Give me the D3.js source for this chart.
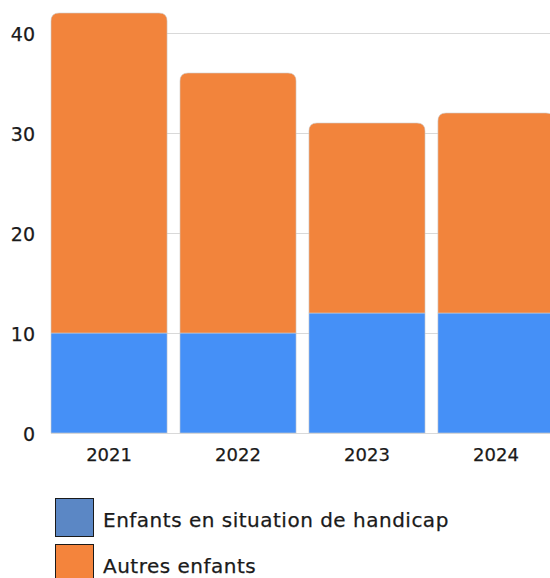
<!DOCTYPE html>
<html lang="fr">
<head>
<meta charset="utf-8" />
<title>Enfants</title>
<style>
  html,body{margin:0;background:#fff;}
  svg{display:block;font-family:"DejaVu Sans","Open Sans",sans-serif;}
  text{stroke:#1a1a1a;stroke-width:0.25px;}
</style>
</head>
<body>
<svg id="chart" width="550" height="578"></svg>
<script src="https://d3js.org/d3.v7.min.js"></script>
<script>
// ---- data ----
const years = ['2021','2022','2023','2024'];
const handicap = [10, 10, 12, 12];
const autres = [32, 26, 19, 20];
const yTicks = [0, 10, 20, 30, 40];
const seriesNames = ['Enfants en situation de handicap', 'Autres enfants'];

const svg = d3.select('#chart');
const x = d3.scaleBand().domain(years).range([51, 554]).paddingInner(0.1).paddingOuter(0);
const y = d3.scaleLinear().domain([0, 40]).range([433, 33]);

// gridlines
svg.append('g').selectAll('line').data(yTicks).join('line')
  .attr('x1', 51).attr('x2', 550)
  .attr('y1', d => y(d) + 0.5).attr('y2', d => y(d) + 0.5)
  .attr('stroke', '#d9d9d9').attr('stroke-width', 1.2);

// y labels
svg.append('g').selectAll('text').data(yTicks).join('text')
  .attr('x', 35).attr('y', d => y(d) + 8)
  .attr('text-anchor', 'end').attr('font-size', 19).attr('fill', '#1a1a1a')
  .text(d => d);

const rows = years.map((yr, i) => ({yr, h: handicap[i], a: autres[i]}));
const bw = x.bandwidth(), r = 8;

// blue segments
svg.append('g').selectAll('rect').data(rows).join('rect')
  .attr('x', d => x(d.yr)).attr('width', bw)
  .attr('y', d => y(d.h)).attr('height', d => y(0) - y(d.h))
  .attr('fill', '#4590f7').attr('stroke', '#cfcfcf').attr('stroke-width', 0.6);

// orange segments with rounded top corners
svg.append('g').selectAll('path').data(rows).join('path')
  .attr('d', d => {
    const x0 = x(d.yr), x1 = x0 + bw, top = y(d.h + d.a), bot = y(d.h);
    return `M${x0},${bot} L${x0},${top + r} Q${x0},${top} ${x0 + r},${top} L${x1 - r},${top} Q${x1},${top} ${x1},${top + r} L${x1},${bot} Z`;
  })
  .attr('fill', '#f2843c').attr('stroke', '#cfcfcf').attr('stroke-width', 0.6);

// x labels
svg.append('g').selectAll('text').data(years).join('text')
  .attr('x', d => x(d) + bw / 2).attr('y', 461)
  .attr('text-anchor', 'middle').attr('font-size', 18).attr('fill', '#1a1a1a')
  .text(d => d);

// legend
const legColors = ['#5b87c5', '#f4843c'];
const leg = svg.append('g').selectAll('g').data(seriesNames).join('g')
  .attr('transform', (d, i) => `translate(55,${498 + i * 46})`);
leg.append('rect').attr('x', 0.5).attr('y', 0.5).attr('width', 38).attr('height', 38)
  .attr('fill', (d, i) => legColors[i]).attr('stroke', '#1a1a1a').attr('stroke-width', 1);
leg.append('text').attr('x', 48).attr('y', 29).attr('font-size', 20)
  .attr('letter-spacing', 0.5).attr('fill', '#1a1a1a')
  .text(d => d);
</script>
</body>
</html>
